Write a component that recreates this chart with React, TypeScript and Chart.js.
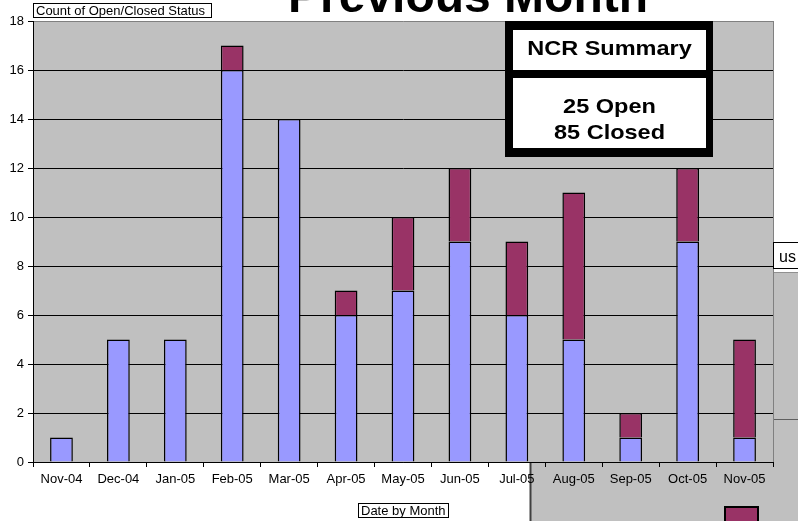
import React, { useEffect, useRef } from "react";
import { Chart, registerables } from "chart.js";

Chart.register(...registerables);

const categories = ["Nov-04", "Dec-04", "Jan-05", "Feb-05", "Mar-05", "Apr-05", "May-05", "Jun-05", "Jul-05", "Aug-05", "Sep-05", "Oct-05", "Nov-05"];
const closedValues = [1, 5, 5, 16, 14, 6, 7, 9, 6, 5, 1, 9, 1];
const openValues = [0, 0, 0, 1, 0, 1, 3, 3, 3, 6, 1, 3, 4];
const yTicks = [0, 2, 4, 6, 8, 10, 12, 14, 16, 18];
const titleText = "Previous Month";
const yAxisTitle = "Count of Open/Closed Status";
const xAxisTitle = "Date by Month";
const summaryTitle = "NCR Summary";
const summaryLines = ["25 Open", "85 Closed"];

const FONT = '"Liberation Sans", Arial, sans-serif';
const BLUE = "#9999FF";
const MAROON = "#993366";
const PLOT_GRAY = "#C0C0C0";

const decorPlugin = {
  id: "decor",
  beforeDraw(chart: any) {
    const { ctx, chartArea: a } = chart;
    ctx.save();
    ctx.fillStyle = PLOT_GRAY;
    ctx.fillRect(a.left, a.top, a.right - a.left, a.bottom - a.top);
    ctx.fillRect(530, a.bottom + 1, 798 - 530, 521 - a.bottom);
    ctx.fillRect(a.right + 1, 272, 798 - a.right, 521 - 272);
    ctx.strokeStyle = "#404040";
    ctx.lineWidth = 2;
    ctx.beginPath();
    ctx.moveTo(530.5, a.bottom + 1);
    ctx.lineTo(530.5, 521);
    ctx.stroke();
    ctx.strokeStyle = "#606060";
    ctx.lineWidth = 1;
    ctx.beginPath();
    ctx.moveTo(a.right + 1, 419.5);
    ctx.lineTo(798, 419.5);
    ctx.stroke();
    ctx.strokeStyle = "#909090";
    ctx.beginPath();
    ctx.moveTo(a.right + 1, 272.5);
    ctx.lineTo(798, 272.5);
    ctx.stroke();
    ctx.restore();
  },
  afterDraw(chart: any) {
    const { ctx, chartArea: a } = chart;
    ctx.save();
    ctx.strokeStyle = "#808080";
    ctx.lineWidth = 1;
    ctx.beginPath();
    ctx.moveTo(a.right + 0.5, a.top);
    ctx.lineTo(a.right + 0.5, a.bottom);
    ctx.stroke();

    ctx.fillStyle = "#000";
    ctx.font = `bold 48px ${FONT}`;
    ctx.textAlign = "center";
    ctx.textBaseline = "alphabetic";
    ctx.fillText(titleText, 468, 12);

    ctx.font = `13px ${FONT}`;
    ctx.textAlign = "left";
    ctx.fillStyle = "#fff";
    ctx.fillRect(33.5, 3.5, 178, 14);
    ctx.strokeStyle = "#000";
    ctx.strokeRect(33.5, 3.5, 178, 14);
    ctx.fillStyle = "#000";
    ctx.fillText(yAxisTitle, 36, 15);

    ctx.fillStyle = "#fff";
    ctx.fillRect(358.5, 503.5, 90, 14);
    ctx.strokeRect(358.5, 503.5, 90, 14);
    ctx.fillStyle = "#000";
    ctx.fillText(xAxisTitle, 361, 515);

    // partial title box of the overlapping window
    ctx.fillStyle = "#fff";
    ctx.fillRect(a.right, 242, 40, 27);
    ctx.strokeStyle = "#000";
    ctx.strokeRect(a.right + 0.5, 242.5, 40, 26);
    ctx.save();
    ctx.beginPath();
    ctx.rect(779, 240, 30, 35);
    ctx.clip();
    ctx.fillStyle = "#000";
    ctx.font = `16px ${FONT}`;
    ctx.textAlign = "right";
    ctx.fillText(yAxisTitle, 796, 262);
    ctx.restore();

    ctx.fillStyle = MAROON;
    ctx.fillRect(725, 507, 33, 16);
    ctx.strokeStyle = "#000";
    ctx.lineWidth = 2;
    ctx.strokeRect(725, 507, 33, 16);

    // NCR summary box
    ctx.fillStyle = "#000";
    ctx.fillRect(505, 21, 208, 136);
    ctx.fillStyle = "#fff";
    ctx.fillRect(513, 30, 193, 40);
    ctx.fillRect(513, 78, 193, 70);
    ctx.fillStyle = "#000";
    const drawStretched = (t: string, x: number, y: number) => {
      ctx.save();
      ctx.translate(x, y);
      ctx.scale(1.12, 1);
      ctx.font = `bold 21px ${FONT}`;
      ctx.textAlign = "center";
      ctx.textBaseline = "alphabetic";
      ctx.fillText(t, 0, 0);
      ctx.restore();
    };
    drawStretched(summaryTitle, 609.5, 55);
    drawStretched(summaryLines[0], 609.5, 112.5);
    drawStretched(summaryLines[1], 609.5, 138.5);
    ctx.restore();
  },
};

export default function App() {
  const ref = useRef<HTMLCanvasElement | null>(null);
  useEffect(() => {
    if (!ref.current) return;
    Chart.defaults.font.family = FONT;
    const chart = new Chart(ref.current, {
      type: "bar",
      data: {
        labels: categories,
        datasets: [
          {
            label: "Closed",
            data: closedValues,
            backgroundColor: BLUE,
            borderColor: "#000",
            borderWidth: (c: any) => (c.raw === 0 ? 0 : 1.5),
            barPercentage: 0.4,
            categoryPercentage: 1,
          },
          {
            label: "Open",
            data: openValues,
            backgroundColor: MAROON,
            borderColor: "#000",
            borderWidth: (c: any) => (c.raw === 0 ? 0 : 1.5),
            barPercentage: 0.4,
            categoryPercentage: 1,
          },
        ],
      },
      options: {
        responsive: false,
        animation: false,
        layout: { padding: { top: 21, right: 25, left: 0, bottom: 0 } },
        plugins: { legend: { display: false }, tooltip: { enabled: false }, title: { display: false } },
        scales: {
          x: {
            stacked: true,
            offset: true,
            grid: { display: true, drawOnChartArea: false, drawTicks: true, tickLength: 5, color: "#000", offset: true },
            border: { display: true, color: "#000", width: 1 },
            ticks: { color: "#000", font: { size: 13 }, padding: 5, maxRotation: 0, autoSkip: false },
            afterFit: (s: any) => {
              s.height = 59;
            },
          },
          y: {
            stacked: true,
            min: 0,
            max: 18,
            afterBuildTicks: (s: any) => {
              s.ticks = yTicks.map((v) => ({ value: v }));
            },
            grid: {
              color: (c: any) => (c.tick && c.tick.value === 18 ? "#808080" : "#000"),
              tickColor: "#000",
              tickLength: 5,
              lineWidth: 1,
            },
            border: { display: true, color: "#000", width: 1 },
            ticks: { color: "#000", font: { size: 13 }, padding: 4 },
            afterFit: (s: any) => {
              s.width = 33;
            },
          },
        },
      },
      plugins: [decorPlugin],
    } as any);
    return () => chart.destroy();
  }, []);
  return (
    <div style={{ position: "absolute", left: 0, top: 0, width: 798, height: 521 }}>
      <canvas ref={ref} width={798} height={521} style={{ width: 798, height: 521 }} />
    </div>
  );
}
